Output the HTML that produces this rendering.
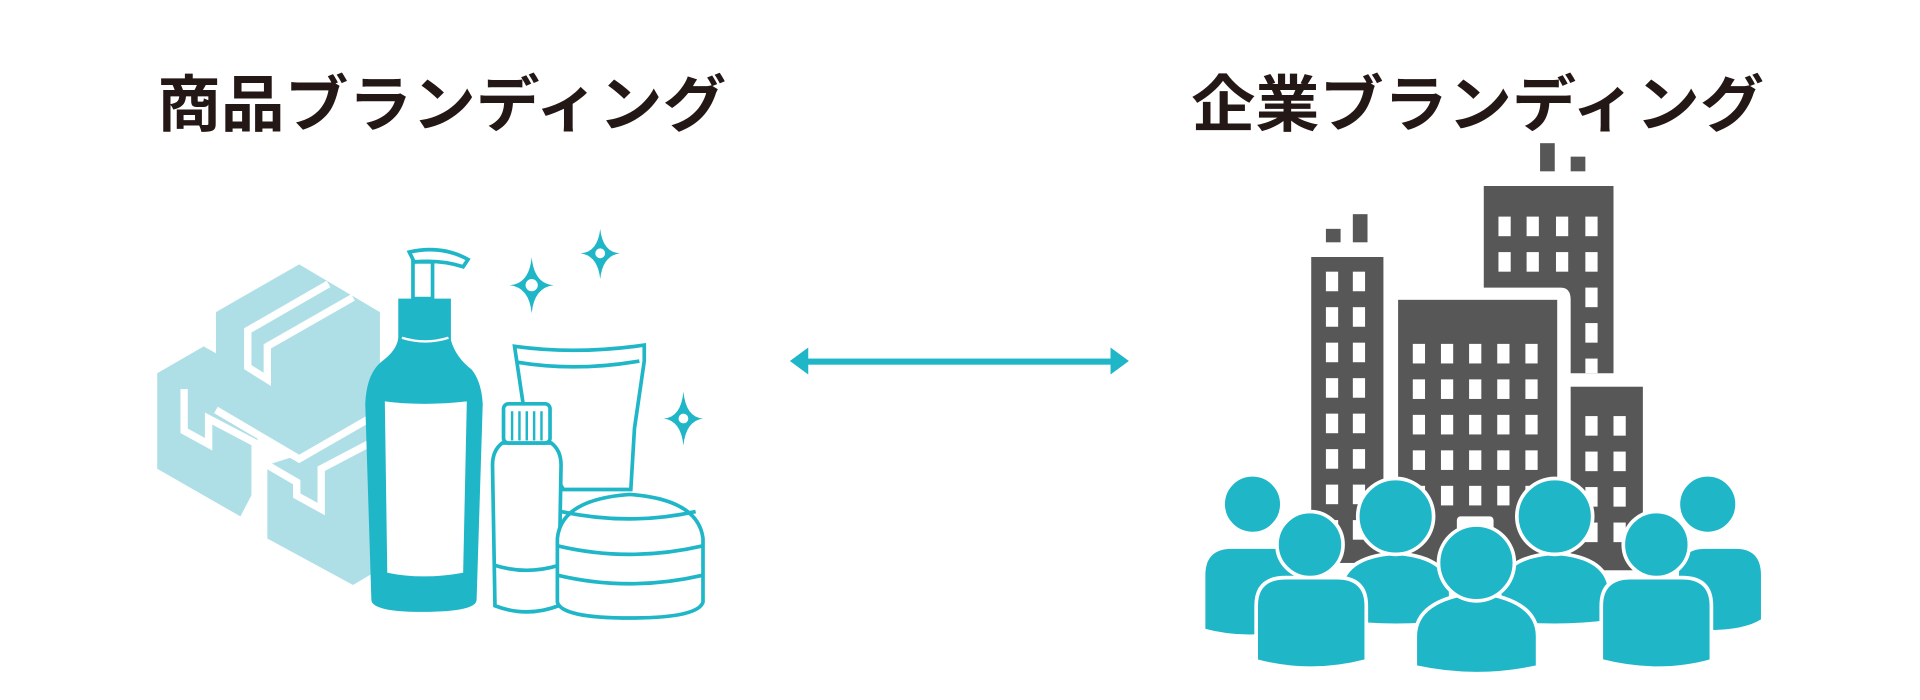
<!DOCTYPE html>
<html><head><meta charset="utf-8"><style>
html,body{margin:0;padding:0;background:#fff;width:1920px;height:700px;overflow:hidden}
svg{display:block}
text{font-family:"Liberation Sans","Noto Sans CJK JP",sans-serif;font-weight:bold;fill:#231815}
</style></head><body>
<svg width="1920" height="700" viewBox="0 0 1568 572" xmlns="http://www.w3.org/2000/svg">
<text x="128" y="103" font-size="50" textLength="465" lengthAdjust="spacingAndGlyphs">商品ブランディング</text>
<text x="973" y="103" font-size="50" textLength="468" lengthAdjust="spacingAndGlyphs">企業ブランディング</text>

<!-- boxes -->
<g fill="#aedfe6">
<polygon points="244,216 310,255 310,335 244,373 176,335 176,255"/>
<polygon points="166,283 210,308 210,395 196,422 128,383 128,305"/>
<polygon points="262,366 310,340 310,465 288,478 218,440 218,380"/>
</g>
<g stroke="#fff" stroke-width="6" fill="none">
<polyline points="268,232 202,270 202,300 218,310 218,283 288,243"/>
<polyline points="176,335 244,375 310,337"/>
<polyline points="150,318 150,352 170,363 170,342 208,362 208,420"/>
<polyline points="218,380 242,394 242,405 262,416 262,383 302,362"/>
</g>

<!-- tube -->
<g stroke="#1fb6c8" stroke-width="3" fill="#fff">
<path d="M420,283 Q470,290 526,282 L526,295 L518,350 L515,400 L460,400 L430,350 Z"/>
<path d="M422,296 Q470,304 522,295" fill="none"/>
</g>
<!-- pump bottle -->
<g fill="#1fb6c8">
<path d="M325,244 H368 V278 Q372,292 385,302 Q393,312 394,330 L389,490 Q389,500 345,500 Q303,500 303,490 L298,330 Q299,305 312,295 Q324,286 325,276 Z"/>
<rect x="337" y="214" width="16" height="30" fill="#fff" stroke="#1fb6c8" stroke-width="3"/>
<path d="M334,206 Q360,200 382,212 L378,218 Q360,212 338,214 Z" fill="#fff" stroke="#1fb6c8" stroke-width="3"/>
<path d="M314,328 Q345,332 381,328 L378,468 Q345,474 316,468 Z" fill="#fff"/>
<path d="M328,276 Q347,282 366,276" stroke="#fff" stroke-width="2" fill="none"/>
</g>
<!-- small bottle -->
<g stroke="#1fb6c8" stroke-width="3" fill="#fff">
<path d="M410,362 Q402,368 402,380 L404,495 Q430,505 456,495 L458,380 Q458,368 450,362 Z"/>
<rect x="411" y="330" width="38" height="32" rx="4"/>
<path d="M418,336 V360 M424,336 V360 M430,336 V360 M436,336 V360 M442,336 V360" stroke-width="2"/>
<path d="M404,462 Q430,470 456,462" fill="none"/>
</g>
<!-- jar -->
<g stroke="#1fb6c8" stroke-width="3" fill="#fff">
<path d="M455,440 Q458,408 514,404 Q570,408 574,440 L574,492 Q570,505 515,505 Q458,505 455,492 Z"/>
<path d="M458,418 Q514,430 568,418" fill="none"/>
<path d="M455,446 Q514,460 574,446 M455,470 Q514,484 574,470" fill="none"/>
</g>
<!-- sparkles -->
<g fill="#1fb6c8">
<path d="M434,210 Q436,232 452,233 Q436,235 434,256 Q432,235 416,233 Q432,232 434,210Z"/>
<path d="M490,187 Q492,206 506,207 Q492,209 490,228 Q488,209 474,207 Q488,206 490,187Z"/>
<path d="M558,320 Q560,341 574,342 Q560,344 558,364 Q556,344 542,342 Q556,341 558,320Z"/>
</g>
<g fill="#fff"><circle cx="434" cy="233" r="5"/><circle cx="490" cy="207" r="4"/><circle cx="558" cy="342" r="4"/></g>

<!-- arrow -->
<g fill="#1fb6c8">
<rect x="655" y="293" width="257" height="5"/>
<polygon points="645,295 660,284 660,306"/>
<polygon points="922,295 907,284 907,306"/>
</g>

<!-- buildings -->
<g fill="#575757">
<rect x="1258" y="117" width="12" height="23"/><rect x="1283" y="128" width="12" height="12"/>
<rect x="1083" y="187" width="12" height="11"/><rect x="1105" y="175" width="12" height="23"/>
<path d="M1212,152 H1318 V305 H1283 V245 Q1283,235 1275,235 H1212 Z"/>
<rect x="1071" y="210" width="59" height="250"/>
<rect x="1142" y="245" width="130" height="220"/>
<rect x="1283" y="316" width="59" height="150"/>
</g>
<g fill="#fff" id="w">
<!-- top tower windows -->
<rect x="1224" y="177" width="10" height="16"/><rect x="1247" y="177" width="10" height="16"/><rect x="1271" y="177" width="10" height="16"/><rect x="1295" y="177" width="10" height="16"/>
<rect x="1224" y="206" width="10" height="16"/><rect x="1247" y="206" width="10" height="16"/><rect x="1271" y="206" width="10" height="16"/><rect x="1295" y="206" width="10" height="16"/>
<rect x="1295" y="235" width="10" height="16"/><rect x="1295" y="264" width="10" height="16"/><rect x="1295" y="293" width="10" height="12"/>
</g>
<g fill="#fff">
<g id="lc">
<rect x="1083" y="222" width="10" height="16"/><rect x="1105" y="222" width="10" height="16"/>
</g>
<use href="#lc" y="29"/><use href="#lc" y="58"/><use href="#lc" y="87"/><use href="#lc" y="116"/><use href="#lc" y="145"/><use href="#lc" y="174"/><use href="#lc" y="203"/>
<g id="mr">
<rect x="1154" y="281" width="10" height="16"/><rect x="1177" y="281" width="10" height="16"/><rect x="1200" y="281" width="10" height="16"/><rect x="1223" y="281" width="10" height="16"/><rect x="1246" y="281" width="10" height="16"/>
</g>
<use href="#mr" y="29"/><use href="#mr" y="58"/><use href="#mr" y="87"/><use href="#mr" y="116"/>
<g id="rc"><rect x="1295" y="340" width="10" height="16"/><rect x="1318" y="340" width="10" height="16"/></g>
<use href="#rc" y="29"/><use href="#rc" y="58"/><use href="#rc" y="87"/>
<rect x="1190" y="422" width="30" height="20" rx="3"/>
</g>

<!-- people -->
<g fill="#1fb6c8" stroke="#fff" stroke-width="3">
<path d="M983,515 V470 Q983,447 1006,447 H1040 Q1060,447 1060,470 V515 Q1020,525 983,515Z"/>
<circle cx="1023" cy="412" r="24"/>
<path d="M1370,515 V470 Q1370,447 1393,447 H1418 Q1440,447 1440,470 V507 Q1420,520 1370,515Z"/>
<circle cx="1395" cy="412" r="24"/>
<path d="M1095,508 V485 Q1095,455 1140,452 Q1185,455 1185,485 V508 Q1140,514 1095,508Z"/>
<circle cx="1140" cy="422" r="31"/>
<path d="M1225,508 V485 Q1225,455 1270,452 Q1315,455 1315,485 V508 Q1270,514 1225,508Z"/>
<circle cx="1270" cy="422" r="31"/>
<path d="M1026,540 V495 Q1026,472 1050,472 H1092 Q1116,472 1116,495 V540 Q1070,552 1026,540Z"/>
<circle cx="1070" cy="445" r="27"/>
<path d="M1308,540 V495 Q1308,472 1332,472 H1374 Q1398,472 1398,495 V540 Q1355,552 1308,540Z"/>
<circle cx="1353" cy="445" r="27"/>
<path d="M1156,545 V520 Q1156,490 1206,484 Q1256,490 1256,520 V545 Q1206,556 1156,545Z"/>
<circle cx="1206" cy="460" r="31"/>
</g>
</svg>
</body></html>
